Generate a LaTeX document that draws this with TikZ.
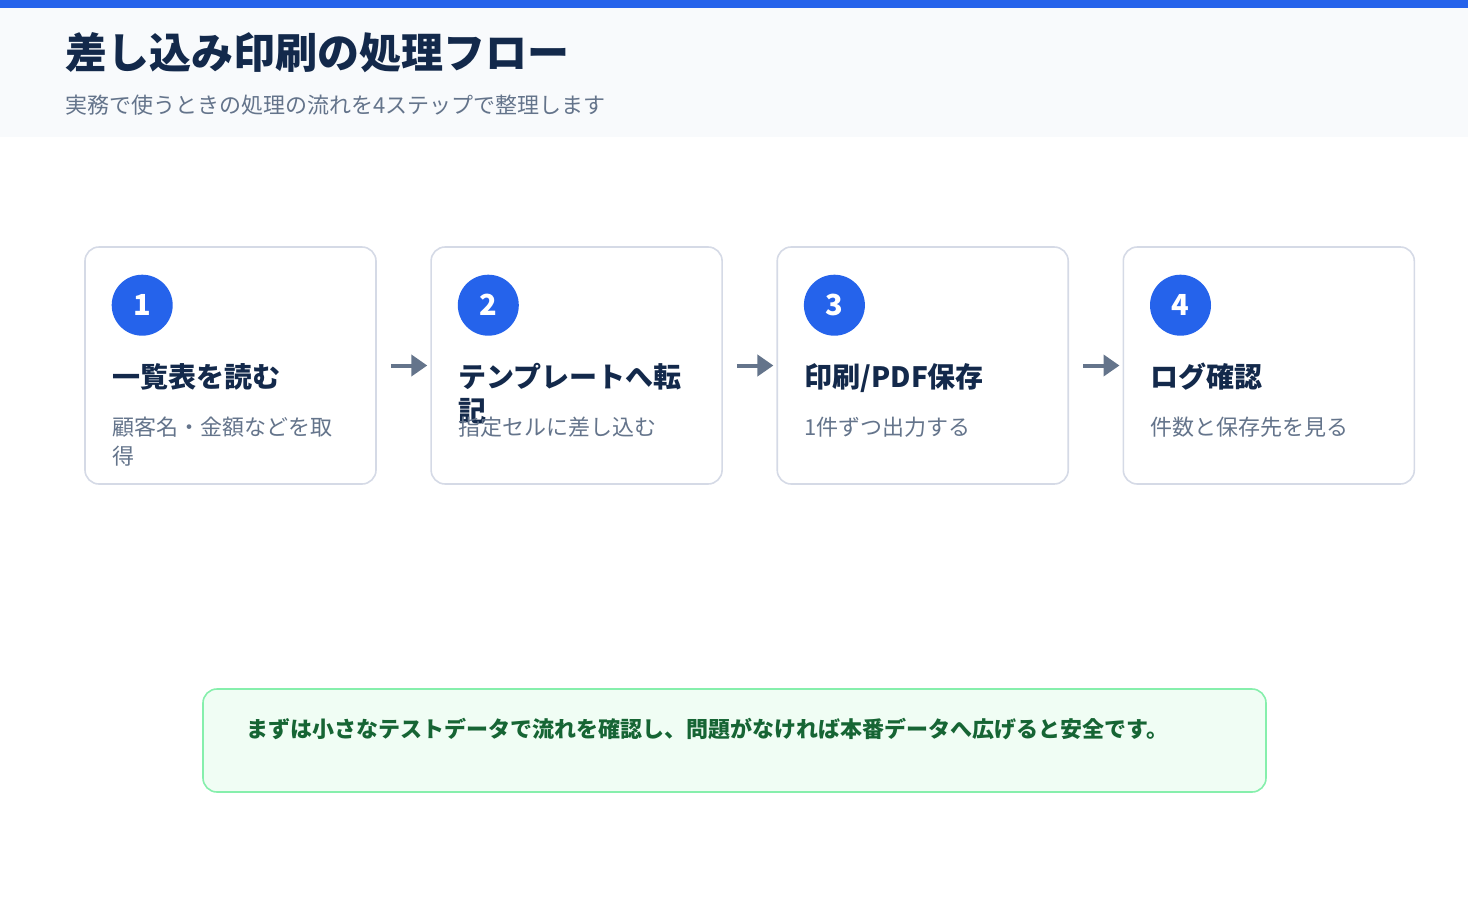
\documentclass[tikz,border=0pt]{standalone}
\usepackage{fontspec}
\setmainfont{Noto Sans CJK JP}
\usepackage{tikz}
\usetikzlibrary{positioning,arrows.meta,calc}

\definecolor{hdrblue}{HTML}{2563EB}
\definecolor{hdrbg}{HTML}{F8FAFC}
\definecolor{ink}{HTML}{13294B}
\definecolor{muted}{HTML}{64748B}
\definecolor{cardline}{HTML}{D5DAE6}
\definecolor{notefill}{HTML}{F0FDF4}
\definecolor{noteline}{HTML}{86EFAC}
\definecolor{notetext}{HTML}{166534}

\begin{document}
\begin{tikzpicture}[
  x=1pt, y=-1pt, node distance=53.5pt,
  card/.style={draw=cardline, line width=1.6pt, rounded corners=14pt, fill=white,
               minimum width=291pt, minimum height=237pt, inner sep=0pt},
  badge/.style={circle, fill=hdrblue, text=white, minimum size=61pt, inner sep=0pt,
                font=\fontsize{29}{34}\selectfont\bfseries},
  stitle/.style={anchor=base west, inner sep=0pt, text=ink,
                 font=\fontsize{28}{34}\selectfont\bfseries},
  sdesc/.style={anchor=base west, inner sep=0pt, text=muted,
                font=\fontsize{22}{29}\selectfont},
  fl/.style={-{Triangle[length=16pt,width=21pt]}, line width=4pt, draw=muted,
             shorten <=14pt, shorten >=3pt},
]
\useasboundingbox (0,0) rectangle (1468,900);

% header band
\fill[hdrbg] (0,0) rectangle (1468,137);
\fill[hdrblue] (0,0) rectangle (1468,8);
\node[anchor=base west, inner sep=0pt, text=ink, font=\fontsize{42}{48}\selectfont\bfseries]
  (title) at (65,68) {差し込み印刷の処理フロー};
\node[anchor=base west, inner sep=0pt, text=muted, font=\fontsize{22}{26}\selectfont]
  (subtitle) at (65,113) {実務で使うときの処理の流れを4ステップで整理します};

% steps
\node[card] (c1) at (230.5,365.5) {};
\node[card, right=of c1] (c2) {};
\node[card, right=of c2] (c3) {};
\node[card, right=of c3] (c4) {};

\node[badge] (b1) at ($(c1.north west)+(58,59)$) {1};
\node[stitle] (t1) at ($(c1.north west)+(28,141)$) {一覧表を読む};
\node[sdesc] (d1) at ($(c1.north west)+(28,189)$) {\parbox[t]{240pt}{顧客名・金額などを取\\得}};

\node[badge] (b2) at ($(c2.north west)+(58,59)$) {2};
\node[stitle] (t2) at ($(c2.north west)+(28,141)$) {\parbox[t]{240pt}{テンプレートへ転\\記}};
\node[sdesc] (d2) at ($(c2.north west)+(28,189)$) {指定セルに差し込む};

\node[badge] (b3) at ($(c3.north west)+(58,59)$) {3};
\node[stitle] (t3) at ($(c3.north west)+(28,141)$) {印刷/PDF保存};
\node[sdesc] (d3) at ($(c3.north west)+(28,189)$) {1件ずつ出力する};

\node[badge] (b4) at ($(c4.north west)+(58,59)$) {4};
\node[stitle] (t4) at ($(c4.north west)+(28,141)$) {ログ確認};
\node[sdesc] (d4) at ($(c4.north west)+(28,189)$) {件数と保存先を見る};

\draw[fl] (c1.east) -- (c2.west);
\draw[fl] (c2.east) -- (c3.west);
\draw[fl] (c3.east) -- (c4.west);

% note
\node[draw=noteline, fill=notefill, line width=1.6pt, rounded corners=14pt,
      minimum width=1063pt, minimum height=103pt, inner sep=0pt] (note) at (734.5,740.5) {};
\node[anchor=base west, inner sep=0pt, text=notetext, font=\fontsize{22}{26}\selectfont\bfseries]
  (notetxt) at ($(note.north west)+(44,49)$) {まずは小さなテストデータで流れを確認し、問題がなければ本番データへ広げると安全です。};
\end{tikzpicture}
\end{document}
